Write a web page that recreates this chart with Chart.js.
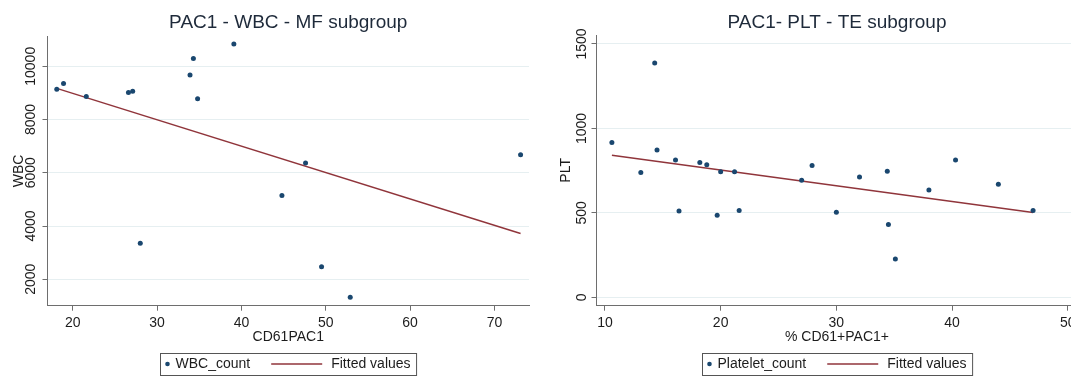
<!DOCTYPE html>
<html>
<head>
<meta charset="utf-8">
<script src="https://cdn.jsdelivr.net/npm/chart.js@4"></script>
<style>
  html, body { margin: 0; padding: 0; background: #fff; overflow: hidden; width: 1071px; height: 376px; }
  #wrap { position: relative; width: 1071px; height: 376px; overflow: hidden; }
  #c1 { position: absolute; left: 0; top: 0; }
  #c2 { position: absolute; left: 540px; top: 0; }
</style>
</head>
<body>
<div id="wrap">
  <canvas id="c1" width="540" height="376"></canvas>
  <canvas id="c2" width="560" height="376"></canvas>
</div>
<script>
// left panel: PAC1 - WBC - MF subgroup
const mfPac1 = [18.1, 18.9, 21.6, 26.6, 27.1, 28.0, 33.9, 34.3, 34.8, 39.1, 44.8, 47.6, 49.5, 52.9, 73.1];
const mfWbc = [9140, 9350, 8870, 9020, 9060, 3350, 9670, 10290, 8780, 10840, 5150, 6370, 2470, 1330, 6680];
const mfFitX = [18.1, 73.1];
const mfFitY = [9170, 3720];
const mfXTicks = [20, 30, 40, 50, 60, 70];
const mfYTicks = [2000, 4000, 6000, 8000, 10000];

// right panel: PAC1- PLT - TE subgroup
const tePac1 = [10.6, 13.1, 14.3, 14.5, 16.1, 16.4, 18.2, 18.8, 19.7, 20.0, 21.2, 21.6, 27.0, 27.9, 30.0, 32.0, 34.4, 34.5, 35.1, 38.0, 40.3, 44.0, 47.0];
const tePlt = [917, 739, 1388, 872, 813, 512, 798, 785, 486, 743, 743, 514, 694, 781, 504, 712, 747, 431, 227, 636, 813, 670, 514];
const teFitX = [10.6, 47.0];
const teFitY = [842, 502];
const teXTicks = [10, 20, 30, 40, 50];
const teYTicks = [0, 500, 1000, 1500];

const FONT = "'Liberation Sans', Arial, sans-serif";
const DOT = "#1a476f";
const FIT = "#90353b";
const AXIS = "#6e6e6e";
const GRID = "#e6eff1";
const INK = "#1c1c1c";

const pts = (xs, ys) => xs.map((x, i) => ({ x: x, y: ys[i] }));

// draws the title, vertical y tick labels and the boxed legend
const stataBits = {
  id: "stataBits",
  afterDraw(chart, args, o) {
    const ctx = chart.ctx;
    const area = chart.chartArea;
    const cx = (area.left + area.right) / 2;

    ctx.save();
    ctx.fillStyle = "#1e2a3a";
    ctx.font = "19px " + FONT;
    ctx.textAlign = "center";
    ctx.textBaseline = "middle";
    ctx.fillText(o.title, cx, 23);

    const ys = chart.scales.y;
    ctx.fillStyle = INK;
    ctx.font = "14px " + FONT;
    ys.ticks.forEach(t => {
      const py = ys.getPixelForValue(t.value);
      ctx.save();
      ctx.translate(o.yLabelX, py);
      ctx.rotate(-Math.PI / 2);
      ctx.fillText(String(t.value), 0, 0);
      ctx.restore();
    });

    // legend
    const l1 = chart.data.datasets[0].label;
    const l2 = chart.data.datasets[1].label;
    const w1 = ctx.measureText(l1).width;
    const w2 = ctx.measureText(l2).width;
    const boxW = 7 + 8 + w1 + 21 + 51 + 9 + w2 + 6;
    const bx = Math.round(cx - boxW / 2) + 0.5;
    const by = 353.5;
    const ty = 364;
    ctx.strokeStyle = "#555";
    ctx.lineWidth = 1;
    ctx.strokeRect(bx, by, boxW, 22);
    ctx.fillStyle = DOT;
    ctx.beginPath();
    ctx.arc(bx + 7, ty, 2.3, 0, Math.PI * 2);
    ctx.fill();
    ctx.fillStyle = INK;
    ctx.textAlign = "left";
    ctx.fillText(l1, bx + 15, ty);
    const lx = bx + 15 + w1 + 21;
    ctx.strokeStyle = FIT;
    ctx.lineWidth = 1.5;
    ctx.beginPath();
    ctx.moveTo(lx, ty);
    ctx.lineTo(lx + 51, ty);
    ctx.stroke();
    ctx.fillText(l2, lx + 60, ty);
    ctx.restore();
  }
};

function makeChart(el, cfg) {
  return new Chart(document.getElementById(el), {
    type: "scatter",
    data: {
      datasets: [
        {
          label: cfg.pointLabel,
          data: pts(cfg.xs, cfg.ys),
          backgroundColor: DOT,
          borderColor: DOT,
          pointRadius: 2.5,
          pointBorderWidth: 0
        },
        {
          label: "Fitted values",
          data: pts(cfg.fitX, cfg.fitY),
          showLine: true,
          borderColor: FIT,
          borderWidth: 1.5,
          pointRadius: 0
        }
      ]
    },
    options: {
      responsive: false,
      animation: false,
      devicePixelRatio: 1,
      layout: { padding: cfg.pad },
      plugins: {
        legend: { display: false },
        title: { display: false },
        tooltip: { enabled: false },
        stataBits: { title: cfg.title, yLabelX: cfg.yLabelX }
      },
      scales: {
        x: {
          type: "linear",
          min: cfg.xMin,
          max: cfg.xMax,
          afterBuildTicks: s => { s.ticks = cfg.xTicks.map(v => ({ value: v })); },
          afterFit: s => { s.height = 70.3; },
          ticks: { autoSkip: false, maxRotation: 0, padding: 4, color: INK, font: { family: FONT, size: 14 } },
          grid: { drawOnChartArea: false, drawTicks: true, tickLength: 5, tickColor: AXIS },
          border: { display: true, color: AXIS, width: 1 },
          title: { display: true, text: cfg.xTitle, color: INK, font: { family: FONT, size: 14 }, padding: { top: 0, bottom: 30.5 } }
        },
        y: {
          type: "linear",
          min: cfg.yMin,
          max: cfg.yMax,
          afterBuildTicks: s => { s.ticks = cfg.yTicks.map(v => ({ value: v })); },
          afterFit: s => { s.width = cfg.yWidth; },
          ticks: { display: false },
          grid: { color: GRID, lineWidth: 1, drawTicks: true, tickLength: 5, tickColor: AXIS },
          border: { display: true, color: AXIS, width: 1 },
          title: { display: true, text: cfg.yTitle, color: INK, font: { family: FONT, size: 14 }, padding: { top: cfg.yTitlePad, bottom: 0 } }
        }
      }
    },
    plugins: [stataBits]
  });
}

makeChart("c1", {
  title: "PAC1 - WBC - MF subgroup",
  pointLabel: "WBC_count",
  xs: mfPac1, ys: mfWbc, fitX: mfFitX, fitY: mfFitY,
  xTicks: mfXTicks, yTicks: mfYTicks,
  xMin: 17.0, xMax: 74.1, yMin: 1008, yMax: 11138,
  xTitle: "CD61PAC1", yTitle: "WBC",
  yWidth: 47.5, yTitlePad: 10.6, yLabelX: 31,
  pad: { left: 0, right: 11, top: 36, bottom: 0 }
});

makeChart("c2", {
  title: "PAC1- PLT - TE subgroup",
  pointLabel: "Platelet_count",
  xs: tePac1, ys: tePlt, fitX: teFitX, fitY: teFitY,
  xTicks: teXTicks, yTicks: teYTicks,
  xMin: 9.27, xMax: 50.84, yMin: -49, yMax: 1553,
  xTitle: "% CD61+PAC1+", yTitle: "PLT",
  yWidth: 56.5, yTitlePad: 17.9, yLabelX: 42,
  pad: { left: 0, right: 22.5, top: 35, bottom: 0 }
});
</script>
</body>
</html>
